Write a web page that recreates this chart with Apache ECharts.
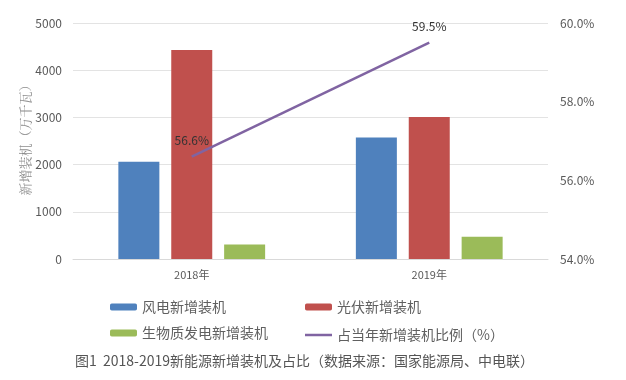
<!DOCTYPE html>
<html><head><meta charset="utf-8">
<script src="https://cdn.jsdelivr.net/npm/echarts@6/dist/echarts.min.js"></script>
<style>html,body{margin:0;padding:0;background:#fff}#c{width:626px;height:380px}</style>
</head><body><div id="c"></div>
<script>
const categories = ['2018年', '2019年'];
const windValues = [2059, 2574];
const solarValues = [4426, 3011];
const bioValues = [305, 473];
const ratioValues = [56.6, 59.5];
const seriesNames = ['风电新增装机', '光伏新增装机', '生物质发电新增装机', '占当年新增装机比例（%）'];
const leftAxisName = '新增装机（万千瓦）';
const titleText = '图1  2018-2019新能源新增装机及占比（数据来源：国家能源局、中电联）';

const FF = '"Noto Sans CJK SC", "Noto Sans", sans-serif';
const chart = echarts.init(document.getElementById('c'), null, {renderer: 'canvas'});
const legendBase = {itemWidth: 27, itemHeight: 7, itemGap: 4,
  textStyle: {fontFamily: FF, fontSize: 14, color: '#606060'}};
chart.setOption({
  animation: false,
  textStyle: {fontFamily: FF},
  title: {text: titleText, left: 70, top: 349,
    textStyle: {fontFamily: FF, fontSize: 14, fontWeight: 'normal', color: '#555'}},
  grid: {left: 73, right: 78, top: 23, bottom: 121},
  legend: [
    Object.assign({data: [seriesNames[0]], left: 105, top: 295}, legendBase),
    Object.assign({data: [seriesNames[1]], left: 300, top: 295}, legendBase),
    Object.assign({data: [seriesNames[2]], left: 105, top: 321}, legendBase),
    Object.assign({}, legendBase, {data: [{name: seriesNames[3], icon: 'rect'}], left: 300, top: 323,
      itemHeight: 2.5, itemStyle: {color: '#8064A2'}})
  ],
  xAxis: {type: 'category', data: categories,
    axisLine: {lineStyle: {color: '#d9d9d9'}}, axisTick: {show: false},
    axisLabel: {color: '#595959', fontSize: 11, margin: 10}},
  yAxis: [
    {type: 'value', min: 0, max: 5000, interval: 1000,
      name: leftAxisName, nameLocation: 'middle', nameGap: 41, nameRotate: 90, nameMoveOverlap: false,
      nameTextStyle: {fontFamily: '"Noto Serif CJK SC", "Noto Sans CJK SC", serif', fontSize: 13, color: '#8c8c8c', padding: [0, 0, 0, 8]},
      axisLabel: {color: '#595959', fontSize: 12, margin: 11, formatter: v => String(v)},
      splitLine: {lineStyle: {color: '#e3e3e3'}}},
    {type: 'value', min: 54, max: 60, interval: 2,
      axisLabel: {color: '#595959', fontSize: 12, margin: 12, formatter: v => v.toFixed(1) + '%'},
      splitLine: {show: false}}
  ],
  series: [
    {name: seriesNames[0], type: 'bar', data: windValues, barWidth: 41, barGap: '29%',
      itemStyle: {color: '#4F81BD'}},
    {name: seriesNames[1], type: 'bar', data: solarValues, barWidth: 41,
      itemStyle: {color: '#C0504D'}},
    {name: seriesNames[2], type: 'bar', data: bioValues, barWidth: 41,
      itemStyle: {color: '#9BBB59'}},
    {name: seriesNames[3], type: 'line', yAxisIndex: 1, data: ratioValues,
      symbol: 'circle', symbolSize: 0.1, showSymbol: true,
      lineStyle: {color: '#8064A2', width: 2.5}, itemStyle: {color: '#8064A2'},
      label: {show: true, position: 'top', distance: 10, color: '#333', fontSize: 12,
        formatter: p => p.value.toFixed(1) + '%'}, z: 5}
  ]
});
</script></body></html>
